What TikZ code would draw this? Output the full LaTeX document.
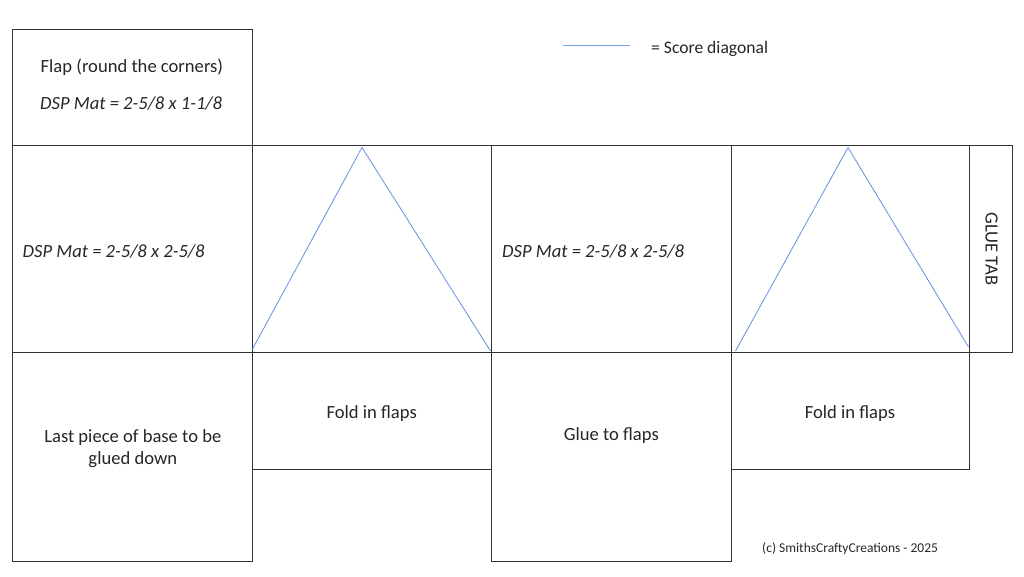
\documentclass[tikz,border=0pt]{standalone}
\usepackage{fontspec}
\setmainfont{Carlito}
\begin{document}
\begin{tikzpicture}[x=1pt,y=-1pt,
  panel/.style={draw=black!80,line width=1pt},
  score/.style={draw={rgb,255:red,90;green,135;blue,225},line width=0.9pt,dash pattern=on 1.4pt off 0.5pt},
  lbl/.style={font=\fontsize{18.6}{22}\selectfont,text=black!85,inner sep=0pt},
  small/.style={font=\fontsize{13.5}{16}\selectfont,text=black!85,inner sep=0pt}]
\useasboundingbox (0,0) rectangle (1024,576);
% panels
\draw[panel] (12.5,29.5) rectangle (252,145.5);
\draw[panel] (12.5,145.5) rectangle (252,352);
\draw[panel] (252,145.5) rectangle (491,352);
\draw[panel] (491,145.5) rectangle (731,352);
\draw[panel] (731,145.5) rectangle (969.5,352);
\draw[panel] (969.5,145.5) rectangle (1012,352);
\draw[panel] (12.5,352) rectangle (252,561);
\draw[panel] (252,352) rectangle (491,469);
\draw[panel] (491,352) rectangle (731,561);
\draw[panel] (731,352) rectangle (969.5,469);
% score diagonals
\draw[score] (252.5,349) -- (362,147.5) -- (490.5,351);
\draw[score] (735.5,351) -- (848,147.5) -- (968.5,347);
\draw[score,solid,line width=1pt,draw={rgb,255:red,120;green,160;blue,230}] (563,45.5) -- (630,45.5);
% labels
\node[lbl,anchor=base west] (flap) at (40.5,72) {Flap (round the corners)};
\node[lbl,anchor=base west] (flapdim) at (40,109) {\itshape DSP Mat = 2-5/8 x 1-1/8};
\node[lbl,anchor=base west] (dimA) at (22.5,257) {\itshape DSP Mat = 2-5/8 x 2-5/8};
\node[lbl,anchor=base west] (dimB) at (502,257) {\itshape DSP Mat = 2-5/8 x 2-5/8};
\node[lbl,rotate=-90] (glue) at (991.5,249) {GLUE TAB};
\node[lbl,align=center] (last) at (132.8,449) {Last piece of base to be\\glued down};
\node[lbl,anchor=base] (foldA) at (371.7,418) {Fold in flaps};
\node[lbl,anchor=base] (gluef) at (611.3,440.5) {Glue to flaps};
\node[lbl,anchor=base] (foldB) at (850,418) {Fold in flaps};
\node[lbl,anchor=base west,font=\fontsize{17.6}{20}\selectfont] (legend) at (651,53) {= Score diagonal};
\node[small,anchor=base west] (copy) at (762,552.5) {(c) SmithsCraftyCreations - 2025};
\end{tikzpicture}
\end{document}
